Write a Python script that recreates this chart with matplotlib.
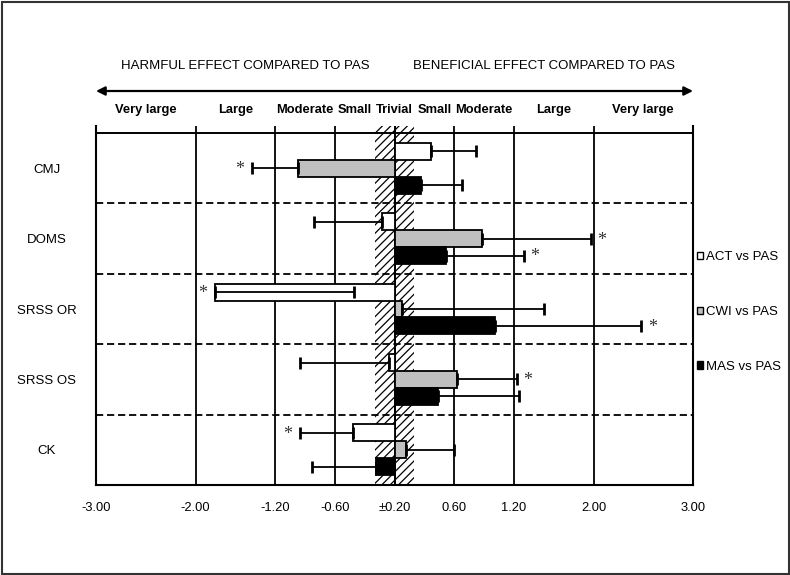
import matplotlib
matplotlib.use('Agg')
import matplotlib.pyplot as plt
import matplotlib.transforms as mtransforms
from matplotlib.patches import Patch, Rectangle
import numpy as np

plt.rcParams['font.family'] = ['Liberation Sans', 'DejaVu Sans']
plt.rcParams['hatch.linewidth'] = 0.9

# ---------------- data ----------------
categories = ['CMJ', 'DOMS', 'SRSS OR', 'SRSS OS', 'CK']
series_labels = ['ACT vs PAS', 'CWI vs PAS', 'MAS vs PAS']

act_values = [0.37, -0.13, -1.80, -0.06, -0.42]
act_err_end = [0.82, -0.81, -0.41, -0.95, -0.95]
act_sig = [False, False, True, False, True]

cwi_values = [-0.97, 0.88, 0.08, 0.63, 0.12]
cwi_err_end = [-1.43, 1.97, 1.50, 1.23, 0.60]
cwi_sig = [True, True, False, True, False]

mas_values = [0.27, 0.52, 1.01, 0.44, -0.19]
mas_err_end = [0.68, 1.30, 2.48, 1.25, -0.83]
mas_sig = [False, True, True, False, False]

xtick_values = [-3, -2, -1.2, -0.6, 0, 0.6, 1.2, 2, 3]
xtick_labels = ['-3.00', '-2.00', '-1.20', '-0.60', '\u00b10.20', '0.60', '1.20', '2.00', '3.00']

magnitude_pos = [-2.5, -1.6, -0.9, -0.4, 0, 0.4, 0.9, 1.6, 2.5]
magnitude_labels = ['Very large', 'Large', 'Moderate', 'Small', 'Trivial',
                    'Small', 'Moderate', 'Large', 'Very large']

trivial_lo, trivial_hi = -0.2, 0.2

# ---------------- figure ----------------
W, H = 790, 575
fig = plt.figure(figsize=(W / 100, H / 100), dpi=100)
ax = fig.add_axes([96 / W, 90 / H, 597 / W, 359 / H])
ax.set_xlim(-3, 3)
ax.set_ylim(-0.5, 4.6)

n = len(categories)
y_centers = np.arange(n)[::-1].astype(float)
bar_h = 0.24

# reference grid
for xv in [-2, -1.2, -0.6, 0, 0.6, 1.2, 2]:
    ax.axvline(xv, color='black', lw=1.3, zorder=1)
ax.axvspan(trivial_lo, trivial_hi, facecolor='white', edgecolor='black',
           hatch='////', lw=0, zorder=0.8)
ax.axvline(0, color='black', lw=1.3, zorder=1)
ax.axhline(n - 0.5, color='black', lw=1.4, zorder=2)
for yv in np.arange(n - 1) + 0.5:
    ax.axhline(yv, color='black', lw=1.3, ls=(0, (4.0, 2.1)), zorder=2)

series = [
    (act_values, act_err_end, act_sig, 'white', +bar_h),
    (cwi_values, cwi_err_end, cwi_sig, '#c0c0c0', 0.0),
    (mas_values, mas_err_end, mas_sig, 'black', -bar_h),
]

for vals, ends, sig, color, off in series:
    ys = y_centers + off
    ax.barh(ys, vals, height=bar_h, color=color, edgecolor='black',
            linewidth=1.3, zorder=3)
    lower = [max(0.0, v - e) for v, e in zip(vals, ends)]
    upper = [max(0.0, e - v) for v, e in zip(vals, ends)]
    ax.errorbar(vals, ys, xerr=[lower, upper], fmt='none', ecolor='black',
                elinewidth=1.3, capsize=4, capthick=2, zorder=4)
    for v, e, s, y in zip(vals, ends, sig, ys):
        if not s:
            continue
        if v >= 0:
            xs, dx = max(v, e), 8
        else:
            xs, dx = min(v, e), -9
        ax.annotate('*', (xs, y), xytext=(dx, -1), textcoords='offset points',
                    ha='center', va='center', family='Liberation Serif',
                    fontsize=13, color='#333333', zorder=5)

# spines
ax.spines['top'].set_visible(False)
for s in ['left', 'right', 'bottom']:
    ax.spines[s].set_linewidth(1.5)
    ax.spines[s].set_color('black')

ax.set_xticks(xtick_values, xtick_labels)
ax.tick_params(axis='x', length=0, pad=12, labelsize=9.3)
ax.set_yticks(y_centers, categories)
ax.tick_params(axis='y', length=0, pad=35.5, labelsize=9.5)
for lbl in ax.get_yticklabels():
    lbl.set_horizontalalignment('center')

# header annotations
trans = mtransforms.blended_transform_factory(ax.transData, fig.transFigure)
fy = lambda px: 1 - px / H
ax.text(-1.5, fy(66), 'HARMFUL EFFECT COMPARED TO PAS', transform=trans,
        ha='center', va='center', fontsize=9.5)
ax.text(1.5, fy(66), 'BENEFICIAL EFFECT COMPARED TO PAS', transform=trans,
        ha='center', va='center', fontsize=9.5)
ax.annotate('', xy=(3, fy(91)), xytext=(-3, fy(91)), xycoords=trans,
            textcoords=trans, annotation_clip=False,
            arrowprops=dict(arrowstyle='<|-|>', color='black', lw=1.6,
                            shrinkA=0, shrinkB=0, mutation_scale=13))
for xp, lab in zip(magnitude_pos, magnitude_labels):
    ax.text(xp, fy(110), lab, transform=trans, ha='center', va='center',
            fontsize=9.3, fontweight='bold')

# legend
colors = ['white', '#c0c0c0', 'black']
handles = [Patch(facecolor=c, edgecolor='black', lw=1.0) for c in colors]
ax.legend(handles, series_labels, loc='center left',
          bbox_to_anchor=(1.006, 0.482), frameon=False, fontsize=9.5,
          handlelength=0.5, handleheight=0.5, handletextpad=0.25,
          labelspacing=3.25, borderpad=0, borderaxespad=0)

# outer frame
fig.patches.append(Rectangle((1.5 / W, 1.5 / H), (W - 3) / W, (H - 3) / H,
                             transform=fig.transFigure, fill=False,
                             edgecolor='#333333', lw=1.5))

fig.savefig('out.png', dpi=100)
